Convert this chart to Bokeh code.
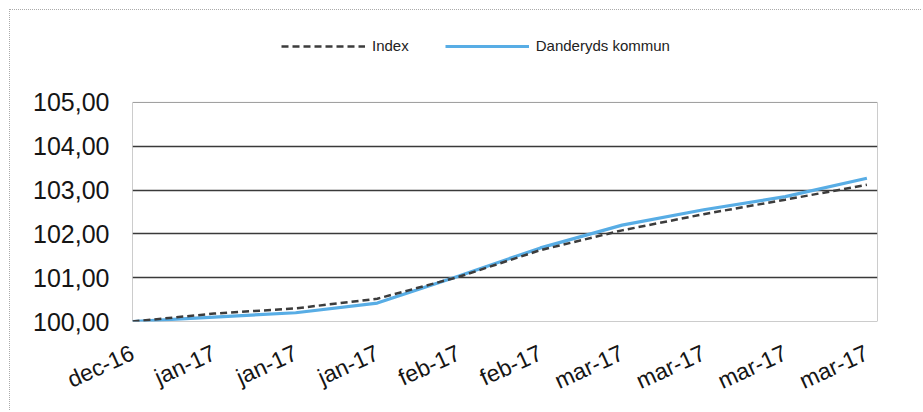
from bokeh.plotting import figure
from bokeh.models import (Range1d, FixedTicker, Legend, LegendItem)
from bokeh.embed import file_html
from bokeh.resources import INLINE

# ---- data ----
months = ["dec-16", "jan-17", "jan-17", "jan-17", "feb-17",
          "feb-17", "mar-17", "mar-17", "mar-17", "mar-17"]
index_vals = [100.00, 100.18, 100.30, 100.52, 101.02,
              101.63, 102.08, 102.45, 102.78, 103.12]
danderyd_vals = [100.00, 100.10, 100.20, 100.42, 101.04,
                 101.68, 102.20, 102.55, 102.85, 103.27]
y_ticks = [100, 101, 102, 103, 104, 105]
y_tick_labels = ["100,00", "101,00", "102,00", "103,00", "104,00", "105,00"]

xs = list(range(len(months)))
X_END = 9.13      # right edge of plot area (in x units)
Y_TOP = 106.71    # extra room above plot area for the legend

p = figure(width=912, height=401, output_backend="svg", toolbar_location=None,
           x_range=Range1d(0, X_END), y_range=Range1d(100, Y_TOP),
           min_border_left=122, min_border_top=17, min_border_right=45,
           min_border_bottom=90, background_fill_color="white",
           border_fill_color="white")
p.margin = (9, 0, 0, 9)
p.styles = {"border-top": "1px dotted #aaaaaa", "border-left": "1px dotted #aaaaaa"}

p.outline_line_color = None

# plot-area box
p.quad(left=[xs[0]], right=[X_END], bottom=[y_ticks[0]], top=[y_ticks[-1]],
       fill_color=None, line_color="#9a9a9a", line_width=1)

# grid
p.xgrid.grid_line_color = None
p.ygrid.ticker = FixedTicker(ticks=y_ticks[:-1])
p.ygrid.grid_line_color = "#3a3a3a"
p.ygrid.grid_line_width = 1.3

# y axis
p.yaxis.ticker = FixedTicker(ticks=y_ticks)
p.yaxis.major_label_overrides = {t: l for t, l in zip(y_ticks, y_tick_labels)}
p.yaxis.axis_line_color = None
p.yaxis.major_tick_line_color = None
p.yaxis.minor_tick_line_color = None
p.yaxis.major_label_text_font = "Liberation Sans"
p.yaxis.major_label_text_font_size = "25px"
p.yaxis.major_label_text_color = "#151515"
p.yaxis.major_label_standoff = 17

# x axis
p.xaxis.ticker = FixedTicker(ticks=xs)
p.xaxis.major_label_overrides = {x: m for x, m in zip(xs, months)}
p.xaxis.axis_line_color = None
p.xaxis.major_tick_line_color = None
p.xaxis.minor_tick_line_color = None
p.xaxis.major_label_text_font = "Liberation Sans"
p.xaxis.major_label_text_font_size = "23px"
p.xaxis.major_label_text_color = "#151515"
p.xaxis.major_label_orientation = 0.43
p.xaxis.major_label_standoff = 24

# lines
r_d = p.line(xs, danderyd_vals, line_color="#58ade5", line_width=3.2)
r_i = p.line(xs, index_vals, line_color="#3c3c3c", line_width=2.5,
             line_dash="7 4")

legend = Legend(items=[LegendItem(label="Index", renderers=[r_i]),
                       LegendItem(label="Danderyds kommun", renderers=[r_d])],
                orientation="horizontal", location=(149, 267),
                padding=0, margin=0, spacing=36, label_standoff=7,
                glyph_width=84, glyph_height=14, label_height=14,
                label_text_font="Liberation Sans", label_text_font_size="15px",
                label_text_color="#222222", border_line_color=None,
                background_fill_alpha=0)
p.add_layout(legend, "center")

open("out.html", "w").write(file_html(p, INLINE))
